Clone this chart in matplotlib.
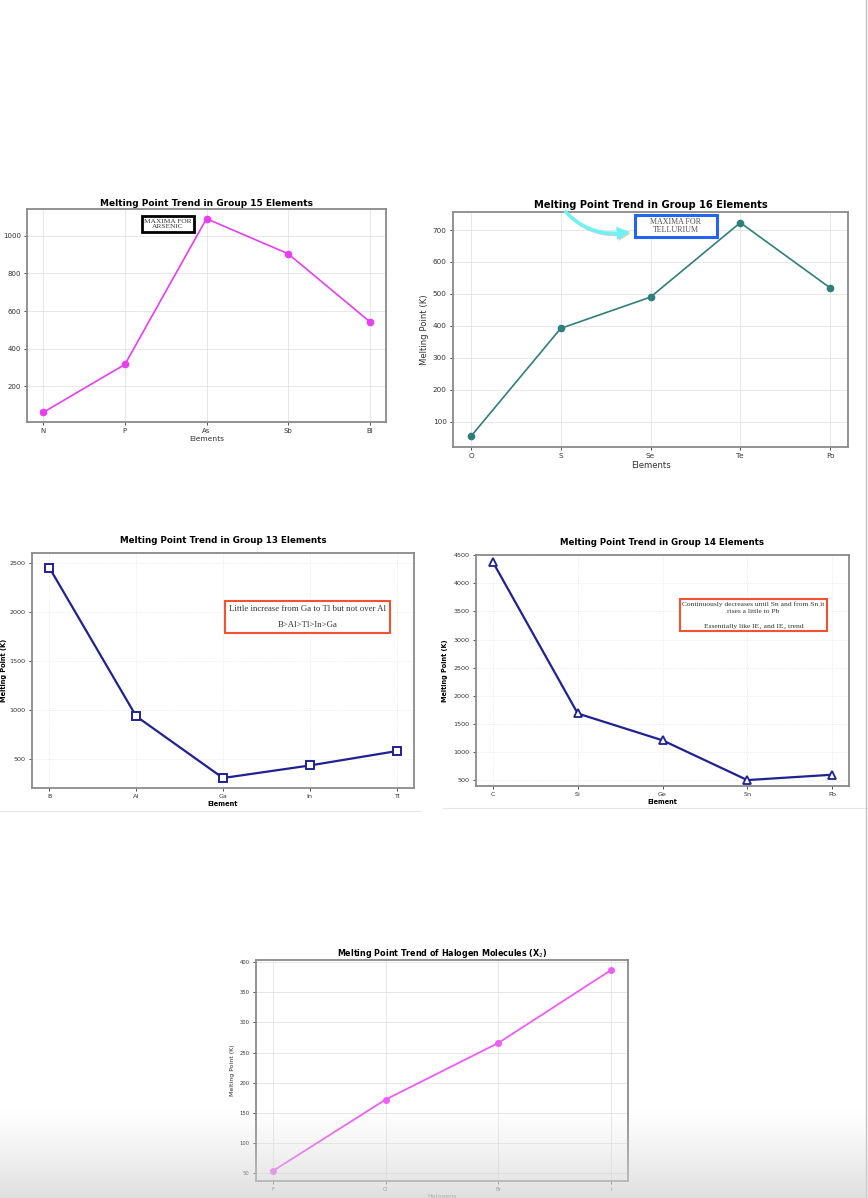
"""
Melting point trends across p-block groups, laid out as one page.
"""

import numpy as np
import matplotlib
matplotlib.use("Agg")
import matplotlib.pyplot as plt
from matplotlib.lines import Line2D
from matplotlib.patches import Rectangle
import matplotlib.patheffects as pe


group15_elements = ["N", "P", "As", "Sb", "Bi"]
group15_mp = [63, 317, 1090, 904, 544]

group16_elements = ["O", "S", "Se", "Te", "Po"]
group16_mp = [54, 392, 490, 723, 519]

group13_elements = ["B", "Al", "Ga", "In", "Tl"]
group13_mp = [2450, 933, 302, 430, 577]

group14_elements = ["C", "Si", "Ge", "Sn", "Pb"]
group14_mp = [4373, 1687, 1211, 505, 600]

halogens = ["F", "Cl", "Br", "I"]
halogen_mp = [53.5, 172, 266, 387]

W, H = 868, 1198
SERIF = ["Liberation Serif", "DejaVu Serif"]


def px_axes(fig, left, top, right, bottom):
    """
    Add axes using pixel edges measured from the top-left corner.
    """
    return fig.add_axes([left / W, 1 - bottom / H, (right - left) / W, (bottom - top) / H])


def style_axes(ax, tick_size, grid_style="-"):
    for spine in ax.spines.values():
        spine.set_color("#8a8a8a")
        spine.set_linewidth(1.3)
    ax.tick_params(labelsize=tick_size, colors="#333333", length=2.5, width=0.6, pad=2)
    ax.grid(True, color="#e4e4e4", linewidth=0.6, linestyle=grid_style)
    ax.set_axisbelow(True)


fig = plt.figure(figsize=(W / 100, H / 100), dpi=100)
fig.patch.set_facecolor("white")

# Group 15
ax = px_axes(fig, 27, 209, 386, 422)
ax.plot(group15_elements, group15_mp, color="#e83ef2", linewidth=1.2,
        marker="o", markersize=4.5)
style_axes(ax, 5.0)
ax.set_title("Melting Point Trend in Group 15 Elements", fontsize=6.5,
             fontweight="bold", pad=2)
ax.set_xlabel("Elements", fontsize=5.4, color="#333333", labelpad=1)
ax.set_ylabel("Melting Point (K)", fontsize=5.4, color="#333333", labelpad=2)
ax.text(0.392, 0.93, "MAXIMA FOR\nARSENIC", transform=ax.transAxes,
        ha="center", va="center", fontsize=5.3, family=SERIF, color="#333333",
        linespacing=1.15,
        bbox=dict(boxstyle="square,pad=0.32", facecolor="white",
                  edgecolor="black", linewidth=2))

# Group 16
ax = px_axes(fig, 453, 212, 848, 447)
ax.plot(group16_elements, group16_mp, color="#2f7f7c", linewidth=1.2,
        marker="o", markersize=4.5)
style_axes(ax, 5.2)
ax.set_title("Melting Point Trend in Group 16 Elements", fontsize=7.1,
             fontweight="bold", pad=3)
ax.set_xlabel("Elements", fontsize=6.1, color="#333333", labelpad=1)
ax.set_ylabel("Melting Point (K)", fontsize=6.1, color="#333333", labelpad=3)
ax.add_patch(Rectangle((0.461, 0.894), 0.207, 0.093, transform=ax.transAxes,
                       facecolor="white", edgecolor="#2364f2", linewidth=2.2,
                       zorder=4))
ax.text(0.5645, 0.94, "MAXIMA FOR\nTELLURIUM", transform=ax.transAxes,
        ha="center", va="center", fontsize=5.8, family=SERIF, color="#555555",
        linespacing=1.0, zorder=5)
ax.annotate("", xy=(632 / W, 1 - 231 / H), xycoords="figure fraction",
            xytext=(563 / W, 1 - 209 / H), textcoords="figure fraction",
            arrowprops=dict(arrowstyle="simple,head_width=0.9,head_length=0.9,tail_width=0.22",
                            connectionstyle="arc3,rad=0.3", color="#6ff2f2",
                            linewidth=0.3,
                            path_effects=[pe.SimplePatchShadow(offset=(1, -1), alpha=0.25),
                                          pe.Normal()]),
            annotation_clip=False)

# Group 13
ax = px_axes(fig, 32, 553, 414, 788)
ax.plot(group13_elements, group13_mp, color="#1f2290", linewidth=1.6,
        marker="s", markersize=5.5, markerfacecolor="white",
        markeredgecolor="#1f2290", markeredgewidth=1.4)
style_axes(ax, 4.6, grid_style=":")
ax.set_ylim(200, 2600)
ax.set_yticks([500, 1000, 1500, 2000, 2500])
ax.set_title("Melting Point Trend in Group 13 Elements", fontsize=6.3,
             fontweight="bold", pad=7)
ax.set_xlabel("Element", fontsize=4.8, fontweight="bold", labelpad=1)
ax.set_ylabel("Melting Point (K)", fontsize=4.8, fontweight="bold", labelpad=2)
ax.text(0.721, 0.728, "Little increase from Ga to Tl but not over Al\n\nB>Al>Tl>In>Ga",
        transform=ax.transAxes, ha="center", va="center", fontsize=6.3,
        family=SERIF, color="#333333", linespacing=1.05,
        bbox=dict(boxstyle="square,pad=0.45", facecolor="white",
                  edgecolor="#f2532e", linewidth=1.5))

# Group 14
ax = px_axes(fig, 476, 555, 849, 786)
ax.plot(group14_elements, group14_mp, color="#1f2290", linewidth=1.6,
        marker="^", markersize=6, markerfacecolor="white",
        markeredgecolor="#1f2290", markeredgewidth=1.3)
style_axes(ax, 4.6, grid_style=":")
ax.set_ylim(400, 4500)
ax.set_yticks(range(500, 4501, 500))
ax.set_title("Melting Point Trend in Group 14 Elements", fontsize=6.2,
             fontweight="bold", pad=7)
ax.set_xlabel("Element", fontsize=4.7, fontweight="bold", labelpad=1)
ax.set_ylabel("Melting Point (K)", fontsize=4.7, fontweight="bold", labelpad=4)
ax.text(0.744, 0.74,
        "Continuously decreases until Sn and from Sn it\nrises a little to Pb\n\n"
        "Essentially like IE\u2081 and IE\u2082 trend",
        transform=ax.transAxes, ha="center", va="center", fontsize=5.4,
        family=SERIF, color="#333333", linespacing=1.55,
        bbox=dict(boxstyle="square,pad=0.3", facecolor="white",
                  edgecolor="#f2532e", linewidth=1.5))

# Halogens
ax = px_axes(fig, 256, 960, 628, 1181)
ax.plot(halogens, halogen_mp, color="#f05cf8", linewidth=1.3,
        marker="o", markersize=4)
style_axes(ax, 3.8)
ax.set_title("Melting Point Trend of Halogen Molecules (X$_2$)", fontsize=5.8,
             fontweight="bold", pad=3)
ax.set_xlabel("Halogens", fontsize=4.5, color="#333333", labelpad=1)
ax.set_ylabel("Melting Point (K)", fontsize=4.5, color="#333333", labelpad=3)

# page edges left over from the screenshots
fig.add_artist(Line2D([0, 420 / W], [1 - 811 / H] * 2, color="#e6e6e6", linewidth=0.8))
fig.add_artist(Line2D([443 / W, 1], [1 - 808 / H] * 2, color="#e6e6e6", linewidth=0.8))
fig.add_artist(Line2D([866 / W] * 2, [0, 1], color="#bdbdbd", linewidth=0.9))

# soft grey fade along the bottom
overlay = fig.add_axes([0, 0, 1, 90 / H], zorder=20)
fade = np.zeros((90, 2, 4))
fade[..., :3] = 0.84
fade[..., 3] = np.linspace(0.8, 0.0, 90)[:, None] ** 1.2
overlay.imshow(fade, aspect="auto", extent=[0, 1, 0, 1], origin="lower")
overlay.axis("off")

fig.savefig("out.png", dpi=100)
plt.close(fig)
